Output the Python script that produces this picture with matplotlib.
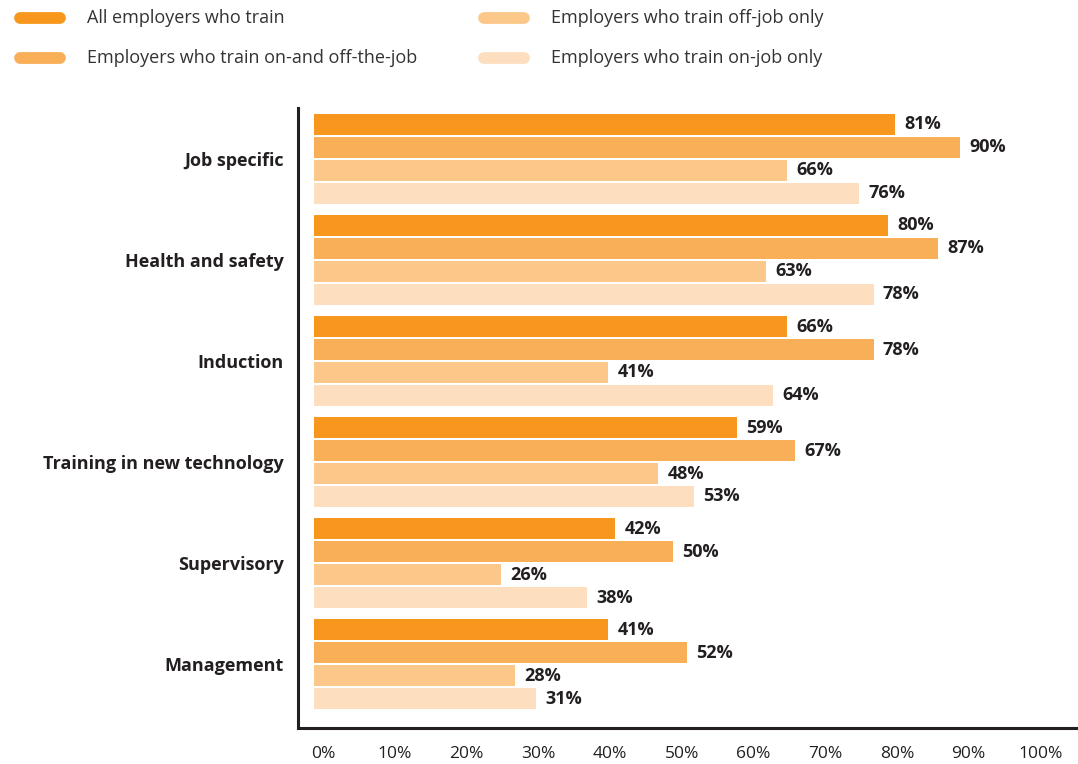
import matplotlib
matplotlib.use("Agg")
import matplotlib.pyplot as plt
from matplotlib.lines import Line2D
from matplotlib.transforms import ScaledTranslation
import numpy as np

plt.rcParams['font.family'] = ['Open Sans', 'DejaVu Sans']

categories = ["Job specific", "Health and safety", "Induction",
              "Training in new technology", "Supervisory", "Management"]
series_names = ["All employers who train",
                "Employers who train on-and off-the-job",
                "Employers who train off-job only",
                "Employers who train on-job only"]
all_train = [81, 80, 66, 59, 42, 41]
on_and_off = [90, 87, 78, 67, 50, 52]
off_only = [66, 63, 41, 48, 26, 28]
on_only = [76, 78, 64, 53, 38, 31]
series = [all_train, on_and_off, off_only, on_only]
colors = ["#F7971E", "#F9AF57", "#FCC88A", "#FDDFBF"]
xticks = [0, 10, 20, 30, 40, 50, 60, 70, 80, 90, 100]

W, H = 1078, 764
fig = plt.figure(figsize=(W / 100, H / 100), dpi=100)
ax = fig.add_axes([298 / W, 36 / H, 780 / W, (656 - 36) / H])

pitch = 0.2266
bh = 0.207
y = np.arange(len(categories))
text_col = "#231F20"
for i, (vals, c) in enumerate(zip(series, colors)):
    yy = y + (i - 1.5) * pitch
    ax.barh(yy, vals, height=bh, color=c, left=0)
    for yv, v in zip(yy, vals):
        ax.text(v + 1.3, yv, f"{v}%", va="center", ha="left",
                fontsize=13, fontweight="bold", color=text_col)

ax.set_ylim(len(categories) - 1 + 0.63, -0.502)
ax.set_xlim(-2.23, 106.5)
ax.set_yticks(y)
ax.set_yticklabels(categories, fontsize=13, fontweight="bold", color=text_col)
ax.set_xticks(xticks)
ax.set_xticklabels([f"{t}%" for t in xticks], fontsize=12.5, color=text_col)
ax.tick_params(axis="both", length=0)
ax.tick_params(axis="y", pad=10)
ax.tick_params(axis="x", pad=13)
off = ScaledTranslation(9 / 100, 0, fig.dpi_scale_trans)
for lab in ax.get_xticklabels():
    lab.set_transform(lab.get_transform() + off)
for s in ["top", "right"]:
    ax.spines[s].set_visible(False)
for s in ["left", "bottom"]:
    ax.spines[s].set_linewidth(2.2)
    ax.spines[s].set_color(text_col)

# legend
leg_pos = [(20, 18), (20, 58), (484, 18), (484, 58)]
for (lx, ly), name, c in zip(leg_pos, series_names, colors):
    fig.add_artist(Line2D([lx / W, (lx + 40) / W], [1 - ly / H, 1 - ly / H],
                          color=c, linewidth=8.5, solid_capstyle="round",
                          transform=fig.transFigure))
    fig.text((lx + 67) / W, 1 - ly / H, name, fontsize=13, color="#333333",
             va="center", ha="left")

fig.savefig("out.png", dpi=100)
